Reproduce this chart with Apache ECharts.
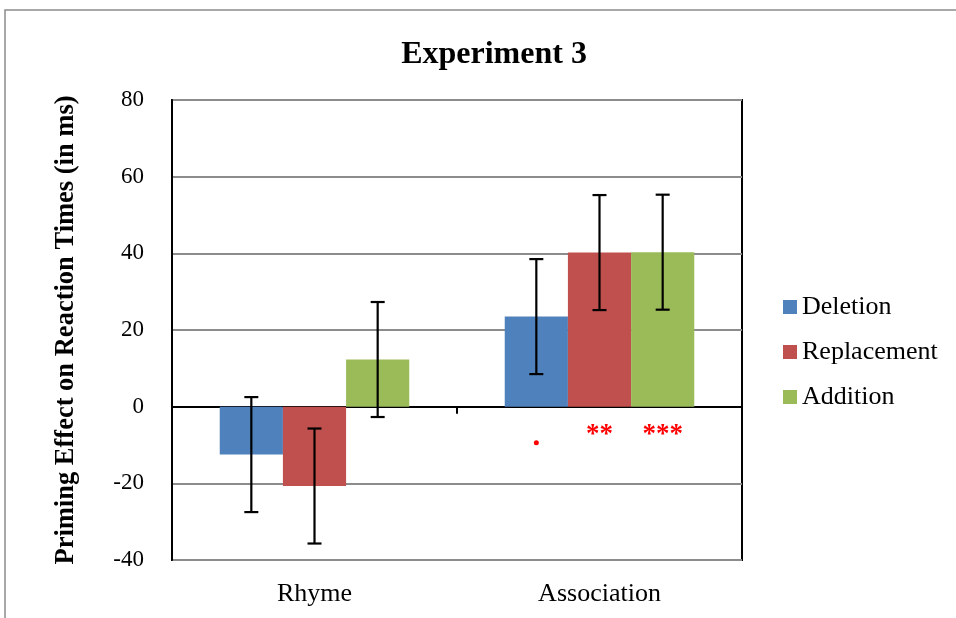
<!DOCTYPE html>
<html>
<head>
<meta charset="utf-8">
<script src="https://cdn.jsdelivr.net/npm/echarts@6/dist/echarts.min.js"></script>
<style>html,body{margin:0;padding:0;background:#fff}#c{width:956px;height:618px}</style>
</head>
<body>
<div id="c"></div>
<script>
const categories = ['Rhyme', 'Association'];
const seriesNames = ['Deletion', 'Replacement', 'Addition'];
const deletion = [-12.5, 23.5];
const replacement = [-20.7, 40.2];
const addition = [12.3, 40.3];
const deletionErr = [15, 15];
const replacementErr = [15, 15];
const additionErr = [15, 15];
const yTicks = [-40, -20, 0, 20, 40, 60, 80];
// significance marks: [series index, category index, text]
const sigMarks = [[0, 1, '.'], [1, 1, '**'], [2, 1, '***']];

const colors = ['#4F81BD', '#C0504D', '#9BBB59'];
const values = [deletion, replacement, addition];
const errs = [deletionErr, replacementErr, additionErr];
const FONT = 'Liberation Serif';
const GAP = 0.335;

const errData = [];
values.forEach((arr, s) => arr.forEach((v, c) => errData.push([c, v - errs[s][c], v + errs[s][c], s])));

const chart = echarts.init(document.getElementById('c'));

const barSeries = seriesNames.map((name, s) => {
  const marks = sigMarks.filter(m => m[0] === s).map(m => {
    if (m[2] === '.') {
      return { coord: [m[1], -9.4], symbol: 'circle', symbolSize: 5, itemStyle: { color: '#FF0000' }, label: { show: false } };
    }
    return { coord: [m[1], -7.5], symbol: 'circle', symbolSize: 0,
      label: { show: true, position: 'inside', formatter: m[2], color: '#FF0000', fontSize: 27, fontWeight: 'bold', fontFamily: FONT } };
  });
  return {
    name, type: 'bar', xAxisIndex: 0, yAxisIndex: 0,
    data: values[s], barGap: '0%', barCategoryGap: (GAP * 100) + '%',
    itemStyle: { color: colors[s] },
    animation: false,
    markPoint: marks.length ? { data: marks, animation: false, silent: true } : undefined
  };
});

chart.setOption({
  animation: false,
  title: {
    text: 'Experiment 3', left: 489, top: 34, textAlign: 'center',
    textStyle: { fontFamily: FONT, fontSize: 32, fontWeight: 'bold', color: '#000' }
  },
  graphic: [{
    type: 'rect', shape: { x: 5, y: 10, width: 1200, height: 1200 },
    style: { fill: null, stroke: '#8c8c8c', lineWidth: 1.5 }, silent: true, z: -1
  }],
  legend: {
    orient: 'vertical', left: 778, top: 289, itemWidth: 14, itemHeight: 14, itemGap: 19,
    icon: 'rect', data: seriesNames,
    textStyle: { fontFamily: FONT, fontSize: 26, color: '#000' }
  },
  grid: { left: 172, right: 214, top: 100, bottom: 58, show: true, borderColor: '#000', borderWidth: 2, containLabel: false },
  xAxis: [{
    type: 'category', data: categories, position: 'top',
    axisLine: { onZero: true, lineStyle: { color: '#000', width: 2 } },
    axisTick: { show: true, inside: true, length: 7, lineStyle: { color: '#000', width: 2 } },
    axisLabel: { show: false }, splitLine: { show: false }
  }, {
    type: 'category', data: categories, position: 'bottom',
    axisLine: { show: false, onZero: false }, axisTick: { show: false },
    axisLabel: { show: true, margin: 21, fontFamily: FONT, fontSize: 26, color: '#000' }
  }],
  yAxis: {
    type: 'value', min: yTicks[0], max: yTicks[yTicks.length - 1], interval: 20,
    name: 'Priming Effect on Reaction Times (in ms)', nameLocation: 'middle', nameGap: 92, nameRotate: 90,
    nameTextStyle: { fontFamily: FONT, fontSize: 26.5, fontWeight: 'bold', color: '#000' },
    axisLine: { show: true, lineStyle: { color: '#000', width: 2 } },
    axisTick: { show: false },
    axisLabel: { fontFamily: FONT, fontSize: 23, color: '#000', margin: 28 },
    splitLine: { show: true, lineStyle: { color: '#8c8c8c', width: 2 } }
  },
  series: barSeries.concat([{
    type: 'custom', xAxisIndex: 0, yAxisIndex: 0, data: errData, z: 5, silent: true,
    encode: { x: 0, y: [1, 2] },
    renderItem: function (params, api) {
      const c = api.value(0), lo = api.value(1), hi = api.value(2), s = api.value(3);
      const center = api.coord([c, 0])[0];
      const band = api.size([1, 0])[0];
      const bw = band * (1 - GAP) / 3;
      const x = center + (s - 1) * bw;
      const yLo = api.coord([c, lo])[1], yHi = api.coord([c, hi])[1];
      const cap = 7;
      const st = { stroke: '#000', lineWidth: 2.2 };
      return { type: 'group', children: [
        { type: 'line', shape: { x1: x, y1: yLo, x2: x, y2: yHi }, style: st },
        { type: 'line', shape: { x1: x - cap, y1: yLo, x2: x + cap, y2: yLo }, style: st },
        { type: 'line', shape: { x1: x - cap, y1: yHi, x2: x + cap, y2: yHi }, style: st }
      ] };
    }
  }])
});
</script>
</body>
</html>
